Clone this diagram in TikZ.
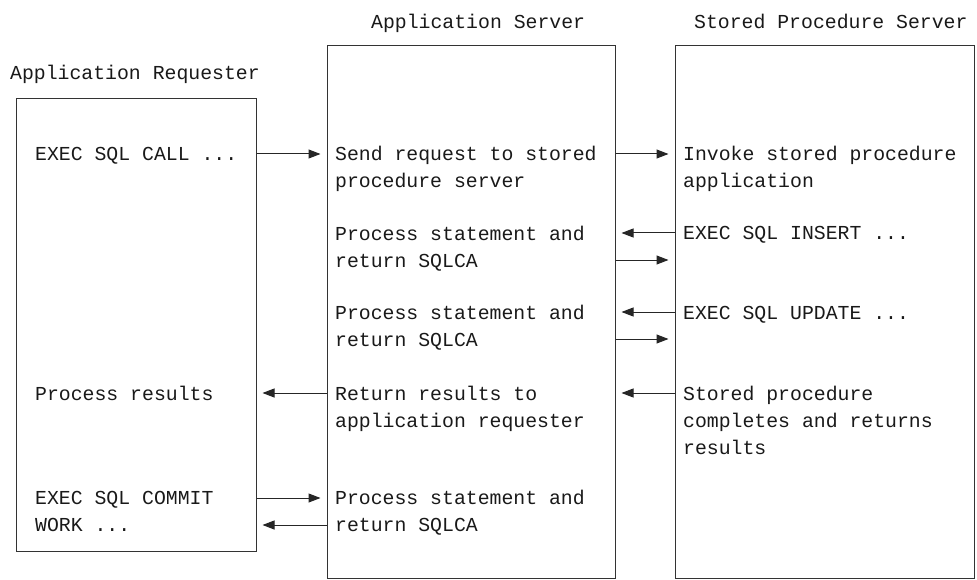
\documentclass[tikz,border=0pt]{standalone}
\usepackage{fontspec}
\setmonofont{Liberation Mono}
\usetikzlibrary{arrows.meta,positioning}

\begin{document}
\begin{tikzpicture}[x=1pt,y=-1pt,
      panel/.style={draw=black!80,line width=1pt,inner sep=0pt},
      msgtext/.style={anchor=base west,inner sep=0pt,align=left,text=black!90,
        font=\ttfamily\fontsize{19.8}{27}\selectfont},
      msg/.style={draw=black!85,line width=1pt,-{Triangle[length=12pt,width=9pt]},shorten >=6pt}]
    \useasboundingbox (0,0) rectangle (977,580);
    % the three boxes
    \node[panel,minimum width=240,minimum height=452] (req) at (136,325) {};
    \node[panel,minimum width=288,minimum height=532] (app) at (471,312) {};
    \node[panel,minimum width=299,minimum height=532] (sps) at (824.5,312) {};
    % titles
    \node[msgtext] (reqTitle) at (10,80) {Application Requester};
    \node[msgtext] (appTitle) at (371,29) {Application Server};
    \node[msgtext] (spsTitle) at (694,29) {Stored Procedure Server};
    % requester (placed by the baseline of the last line)
    \node[msgtext] (reqCall) at (35,161) {EXEC SQL CALL ...};
    \node[msgtext] (reqResults) at (35,400) {Process results};
    \node[msgtext] (reqCommit) at (35,531) {EXEC SQL COMMIT\\WORK ...};
    % application server
    \node[msgtext] (appSend) at (335,188) {Send request to stored\\procedure server};
    \node[msgtext] (appInsert) at (335,267) {Process statement and\\return SQLCA};
    \node[msgtext] (appUpdate) at (335,346) {Process statement and\\return SQLCA};
    \node[msgtext] (appReturn) at (335,427) {Return results to\\application requester};
    \node[msgtext] (appCommit) at (335,531) {Process statement and\\return SQLCA};
    % stored procedure server
    \node[msgtext] (spsInvoke) at (683,188) {Invoke stored procedure\\application};
    \node[msgtext] (spsInsert) at (683,240) {EXEC SQL INSERT ...};
    \node[msgtext] (spsUpdate) at (683,319) {EXEC SQL UPDATE ...};
    \node[msgtext] (spsDone) at (683,454) {Stored procedure\\completes and returns\\results};
    % arrow rows
    \coordinate (rCall) at (0,154);
    \coordinate (rInsert) at (0,233);
    \coordinate (rInsertBack) at (0,260);
    \coordinate (rUpdate) at (0,312);
    \coordinate (rUpdateBack) at (0,339);
    \coordinate (rDone) at (0,393);
    \coordinate (rCommit) at (0,498);
    \coordinate (rCommitBack) at (0,525);
    \draw[msg] (req.east |- rCall) -- (app.west |- rCall);
    \draw[msg] (app.east |- rCall) -- (sps.west |- rCall);
    \draw[msg] (sps.west |- rInsert) -- (app.east |- rInsert);
    \draw[msg] (app.east |- rInsertBack) -- (sps.west |- rInsertBack);
    \draw[msg] (sps.west |- rUpdate) -- (app.east |- rUpdate);
    \draw[msg] (app.east |- rUpdateBack) -- (sps.west |- rUpdateBack);
    \draw[msg] (sps.west |- rDone) -- (app.east |- rDone);
    \draw[msg] (app.west |- rDone) -- (req.east |- rDone);
    \draw[msg] (req.east |- rCommit) -- (app.west |- rCommit);
    \draw[msg] (app.west |- rCommitBack) -- (req.east |- rCommitBack);
\end{tikzpicture}
\end{document}
